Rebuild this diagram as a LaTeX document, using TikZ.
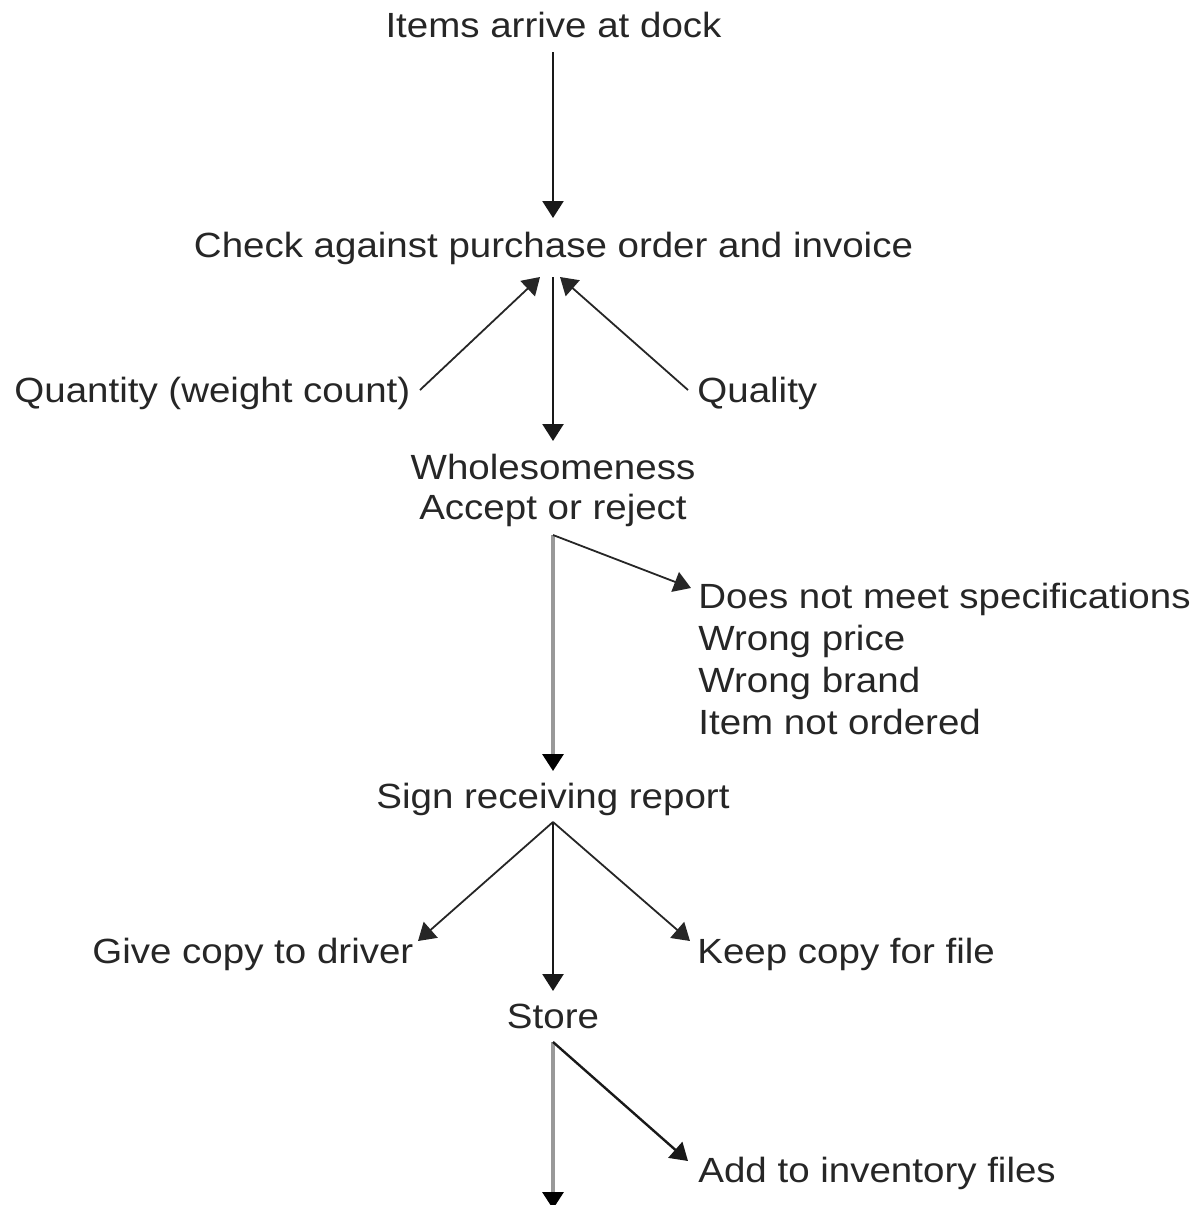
\documentclass[tikz,border=0pt]{standalone}
\usepackage{fontspec}
\setmainfont{Liberation Sans}[FakeStretch=1.1]
\usetikzlibrary{arrows.meta}
\begin{document}
\begin{tikzpicture}[x=0.5pt,y=-0.5pt,
  lbl/.style={inner sep=0pt,font=\fontsize{17.5pt}{21pt}\selectfont,text=black!85},
  flow/.style={line width=1.2pt,draw=black!90,-{Triangle[length=8.5pt,width=10.5pt]}},
  thin/.style={line width=0.9pt,draw=black!85,-{Triangle[length=8.5pt,width=10.5pt]}},
  greyflow/.style={line width=1.6pt,draw=black!40,-{Triangle[length=8.5pt,width=10.5pt,color=black]}}]
\useasboundingbox (0,0) rectangle (1195,1205);
% texts
\node[lbl,anchor=base] (items) at (553.5,37) {Items arrive at dock};
\node[lbl,anchor=base] (check) at (553.5,257) {Check against purchase order and invoice};
\node[lbl,anchor=base west] (quant) at (14,402) {Quantity (weight count)};
\node[lbl,anchor=base west] (qual) at (697,402) {Quality};
\node[lbl,anchor=base,align=center] (whole) at (553,479) {Wholesomeness};
\node[lbl,anchor=base] (accept) at (553,519) {Accept or reject};
\node[lbl,anchor=base west] (r1) at (698,608) {Does not meet specifications};
\node[lbl,anchor=base west] (r2) at (698,650) {Wrong price};
\node[lbl,anchor=base west] (r3) at (698,692) {Wrong brand};
\node[lbl,anchor=base west] (r4) at (698,734) {Item not ordered};
\node[lbl,anchor=base] (sign) at (553,808) {Sign receiving report};
\node[lbl,anchor=base west] (give) at (92,963) {Give copy to driver};
\node[lbl,anchor=base west] (keep) at (697,963) {Keep copy for file};
\node[lbl,anchor=base] (store) at (553,1028) {Store};
\node[lbl,anchor=base west] (add) at (698,1182) {Add to inventory files};
% connector end points
\coordinate (itemsS) at (553,52);
\coordinate (checkN) at (553,218);
\coordinate (checkL) at (540,277);
\coordinate (checkR) at (560,277);
\coordinate (checkS) at (553,277);
\coordinate (quantE) at (420,390);
\coordinate (qualW) at (688,390);
\coordinate (wholeN) at (553,441);
\coordinate (acceptS) at (553,535);
\coordinate (r1W) at (691,588);
\coordinate (signN) at (553,771);
\coordinate (signS) at (553,822);
\coordinate (giveE) at (418,941);
\coordinate (keepW) at (690,941);
\coordinate (storeN) at (553,991);
\coordinate (storeS) at (553,1042);
\coordinate (addW) at (688,1161);
\coordinate (down) at (553,1209);
% connectors
\draw[flow] (itemsS) -- (checkN);
\draw[thin] (quantE) -- (checkL);
\draw[thin] (qualW) -- (checkR);
\draw[flow] (checkS) -- (wholeN);
\draw[greyflow] (acceptS) -- (signN);
\draw[thin] (acceptS) -- (r1W);
\draw[thin] (signS) -- (giveE);
\draw[flow] (signS) -- (storeN);
\draw[thin] (signS) -- (keepW);
\draw[greyflow] (storeS) -- (down);
\draw[flow] (storeS) -- (addW);
\end{tikzpicture}
\end{document}
